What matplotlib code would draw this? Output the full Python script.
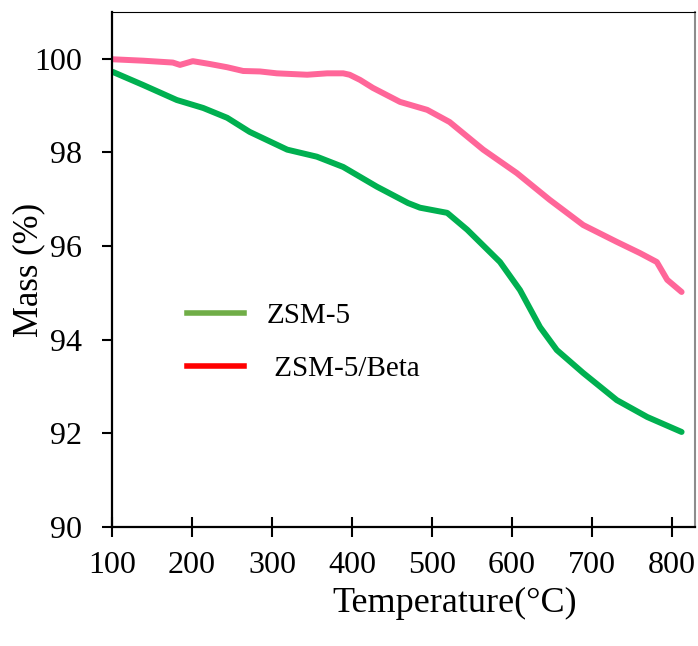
import matplotlib
matplotlib.use("Agg")
import matplotlib.pyplot as plt
from matplotlib.lines import Line2D

# Data
temp_beta = [101, 139, 176, 185, 201, 222, 244, 264, 285, 306, 344, 369, 389, 397, 410, 426,
             460, 494, 522, 564, 606, 647, 689, 731, 760, 781, 794, 812]
mass_beta = [99.99, 99.96, 99.92, 99.87, 99.95, 99.89, 99.82, 99.74, 99.73, 99.69, 99.66, 99.69,
             99.69, 99.66, 99.55, 99.38, 99.08, 98.91, 98.65, 98.06, 97.56, 96.99, 96.45, 96.09,
             95.85, 95.66, 95.28, 95.02]

temp_zsm = [101, 139, 181, 214, 244, 272, 319, 356, 389, 431, 470, 485, 519, 544, 585, 610,
            635, 656, 689, 731, 769, 812]
mass_zsm = [99.72, 99.44, 99.12, 98.95, 98.74, 98.44, 98.06, 97.91, 97.69, 97.27, 96.92, 96.82,
            96.71, 96.35, 95.66, 95.06, 94.27, 93.78, 93.29, 92.71, 92.35, 92.03]

x_ticks = [100, 200, 300, 400, 500, 600, 700, 800]
y_ticks = [90, 92, 94, 96, 98, 100]
legend_labels = ["ZSM-5", " ZSM-5/Beta"]

plt.rcParams['font.family'] = ['Liberation Serif', 'DejaVu Serif']

fig = plt.figure(figsize=(6.98, 6.46), dpi=100)
ax = fig.add_axes([112/698, 1 - 527/646, (695 - 112)/698, (527 - 12)/646])

ax.plot(temp_zsm, mass_zsm, color='#00B050', lw=4.3, solid_capstyle='round')
ax.plot(temp_beta, mass_beta, color='#FF6699', lw=4.3, solid_capstyle='round')

ax.set_xlim(100, 828.75)
ax.set_ylim(90, 101.0)
ax.set_xticks(x_ticks)
ax.set_yticks(y_ticks)
ax.tick_params(axis='x', direction='inout', length=14, width=1.5, labelsize=23, pad=10)
ax.tick_params(axis='y', direction='out', length=7.5, width=1.5, labelsize=23, pad=14)

for s in ['left', 'bottom']:
    ax.spines[s].set_linewidth(1.6)
ax.spines['top'].set_linewidth(0.8)
ax.spines['right'].set_color('#8c8c8c')
ax.spines['right'].set_linewidth(1.5)

ax.set_xlabel('Temperature(°C)', fontsize=26)
ax.set_ylabel('Mass (%)', fontsize=25)
ax.xaxis.set_label_coords(0.588, -0.116)
ax.yaxis.set_label_coords(-0.114, 0.499)

handles = [Line2D([], [], color='#70AD47', lw=4),
           Line2D([], [], color='#FF0000', lw=4)]
ax.legend(handles, legend_labels, loc='upper left', bbox_to_anchor=(0.083, 0.486),
          frameon=False, fontsize=21, handlelength=1.95, handletextpad=0.8,
          labelspacing=0.9)

fig.savefig('out.png', dpi=100)
